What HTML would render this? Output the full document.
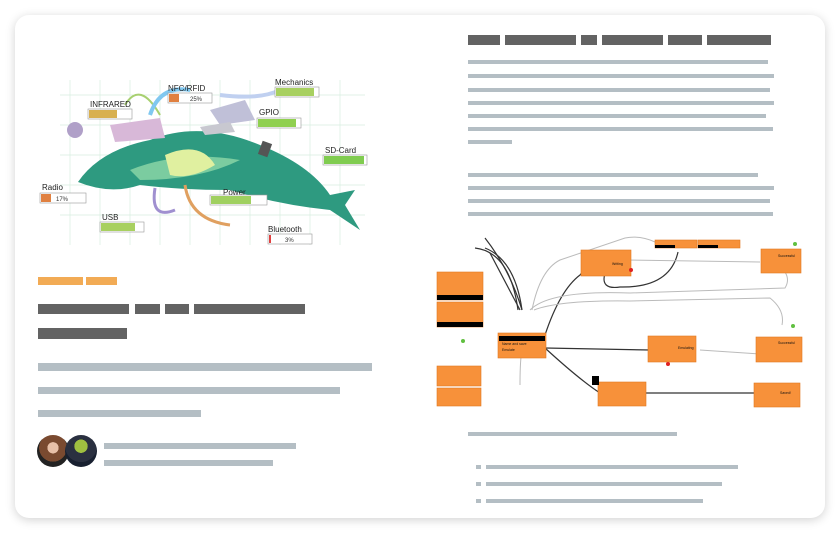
<!DOCTYPE html>
<html><head><meta charset="utf-8"><style>
body{margin:0;width:840px;height:533px;background:#fff;position:relative;overflow:hidden;font-family:"Liberation Sans",sans-serif}
.card{position:absolute;left:15px;top:15px;width:810px;height:503px;background:#fff;border-radius:14px;box-shadow:0 2px 10px rgba(0,0,0,.18)}
.b{position:absolute}
.o{background:#f2ab55}.d{background:#636363}.g{background:#b4bec4}
</style></head><body>
<div class="card"></div>
<!-- left column bars -->
<div class="b o" style="left:38px;top:277px;width:45px;height:8px"></div>
<div class="b o" style="left:86px;top:277px;width:31px;height:8px"></div>
<div class="b d" style="left:38px;top:304px;width:91px;height:10px"></div>
<div class="b d" style="left:135px;top:304px;width:25px;height:10px"></div>
<div class="b d" style="left:165px;top:304px;width:24px;height:10px"></div>
<div class="b d" style="left:194px;top:304px;width:111px;height:10px"></div>
<div class="b d" style="left:38px;top:328px;width:89px;height:11px"></div>
<div class="b g" style="left:38px;top:363px;width:334px;height:8px"></div>
<div class="b g" style="left:38px;top:387px;width:302px;height:7px"></div>
<div class="b g" style="left:38px;top:410px;width:163px;height:7px"></div>
<div class="b" style="left:37px;top:435px;width:32px;height:32px;border-radius:50%;background:radial-gradient(circle at 50% 40%,#e8c0a8 0 22%,#7a4a30 23% 55%,#222 56%)"></div>
<div class="b" style="left:65px;top:435px;width:32px;height:32px;border-radius:50%;background:radial-gradient(circle at 50% 35%,#9fc040 0 25%,#2a3040 26% 60%,#182030 61%)"></div>
<div class="b g" style="left:104px;top:443px;width:192px;height:6px"></div>
<div class="b g" style="left:104px;top:460px;width:169px;height:6px"></div>
<!-- right column text bars -->
<div class="b d" style="left:468px;top:35px;width:32px;height:10px"></div>
<div class="b d" style="left:505px;top:35px;width:71px;height:10px"></div>
<div class="b d" style="left:581px;top:35px;width:16px;height:10px"></div>
<div class="b d" style="left:602px;top:35px;width:61px;height:10px"></div>
<div class="b d" style="left:668px;top:35px;width:34px;height:10px"></div>
<div class="b d" style="left:707px;top:35px;width:64px;height:10px"></div>
<div class="b g" style="left:468px;top:60px;width:300px;height:4px"></div>
<div class="b g" style="left:468px;top:74px;width:306px;height:4px"></div>
<div class="b g" style="left:468px;top:88px;width:302px;height:4px"></div>
<div class="b g" style="left:468px;top:101px;width:306px;height:4px"></div>
<div class="b g" style="left:468px;top:114px;width:298px;height:4px"></div>
<div class="b g" style="left:468px;top:127px;width:305px;height:4px"></div>
<div class="b g" style="left:468px;top:140px;width:44px;height:4px"></div>
<div class="b g" style="left:468px;top:173px;width:290px;height:4px"></div>
<div class="b g" style="left:468px;top:186px;width:306px;height:4px"></div>
<div class="b g" style="left:468px;top:199px;width:302px;height:4px"></div>
<div class="b g" style="left:468px;top:212px;width:305px;height:4px"></div>
<div class="b g" style="left:468px;top:432px;width:209px;height:4px"></div>
<div class="b g" style="left:476px;top:465px;width:5px;height:4px"></div>
<div class="b g" style="left:486px;top:465px;width:252px;height:4px"></div>
<div class="b g" style="left:476px;top:482px;width:5px;height:4px"></div>
<div class="b g" style="left:486px;top:482px;width:236px;height:4px"></div>
<div class="b g" style="left:476px;top:499px;width:5px;height:4px"></div>
<div class="b g" style="left:486px;top:499px;width:217px;height:4px"></div>
<!-- dolphin illustration -->
<svg class="b" style="left:30px;top:70px" width="340" height="180" viewBox="0 0 340 180">
<g stroke="#d8eee0" stroke-width="0.7">
<path d="M40 10V175M70 10V175M100 10V175M130 10V175M160 10V175M190 10V175M220 10V175M250 10V175M280 10V175M310 10V175M30 25H335M30 55H335M30 85H335M30 115H335M30 145H335"/></g>
<path d="M95 35 Q110 10 130 45" fill="none" stroke="#a8d070" stroke-width="2"/>
<path d="M120 45 Q130 15 160 20" fill="none" stroke="#80c8f0" stroke-width="4"/>
<path d="M190 25 Q230 30 250 20" fill="none" stroke="#c0d0f0" stroke-width="4"/>
<path d="M48 112 Q70 80 120 70 Q170 50 230 75 Q280 95 300 125 L325 120 L315 135 L330 160 L300 140 Q250 135 200 120 Q150 120 110 115 Q80 125 48 112Z" fill="#2e9a80"/>
<path d="M100 100 Q150 80 210 90 Q170 110 110 110Z" fill="#8fd8a8" opacity=".8"/>
<path d="M135 85 Q170 70 185 95 Q160 110 140 105Z" fill="#e0f0a0"/>
<path d="M80 55 L130 48 L135 68 L85 72Z" fill="#d8b8d8"/>
<path d="M180 40 L215 30 L225 50 L190 55Z" fill="#c0c0d8"/>
<path d="M170 57 L200 52 L205 62 L175 65Z" fill="#c8c8d0"/>
<rect x="230" y="72" width="10" height="14" fill="#555" transform="rotate(20 235 79)"/>
<path d="M155 115 Q160 150 200 155" fill="none" stroke="#e0a060" stroke-width="3"/>
<path d="M125 118 Q120 150 145 140" fill="none" stroke="#a090d0" stroke-width="3"/>
<circle cx="45" cy="60" r="8" fill="#b0a0c8"/>
<g font-size="8" fill="#222">
<text x="12" y="120">Radio</text><text x="60" y="37">INFRARED</text><text x="138" y="21">NFC/RFID</text>
<text x="245" y="15">Mechanics</text><text x="229" y="45">GPIO</text><text x="295" y="83">SD-Card</text>
<text x="193" y="125">Power</text><text x="72" y="150">USB</text><text x="238" y="162">Bluetooth</text></g>
<g stroke="#999" stroke-width=".6" fill="#fff">
<rect x="10" y="123" width="46" height="10"/><rect x="58" y="39" width="44" height="10"/><rect x="138" y="23" width="44" height="10"/>
<rect x="245" y="17" width="44" height="10"/><rect x="227" y="48" width="44" height="10"/><rect x="293" y="85" width="44" height="10"/>
<rect x="180" y="125" width="57" height="10"/><rect x="70" y="152" width="44" height="10"/><rect x="238" y="164" width="44" height="10"/></g>
<g><rect x="11" y="124" width="10" height="8" fill="#e08040"/><rect x="59" y="40" width="28" height="8" fill="#d8b050"/><rect x="139" y="24" width="10" height="8" fill="#e08040"/>
<rect x="246" y="18" width="38" height="8" fill="#a8d060"/><rect x="228" y="49" width="38" height="8" fill="#90d050"/><rect x="294" y="86" width="40" height="8" fill="#80cc50"/>
<rect x="181" y="126" width="40" height="8" fill="#a0d060"/><rect x="71" y="153" width="34" height="8" fill="#a8d060"/><rect x="239" y="165" width="2" height="8" fill="#e04040"/></g>
<g font-size="6" fill="#333"><text x="26" y="131">17%</text><text x="160" y="31">25%</text><text x="288" y="180"></text><text x="255" y="172">3%</text></g>
</svg>
<!-- flow diagram -->
<svg class="b" style="left:430px;top:230px" width="400" height="180" viewBox="0 0 400 180">
<g fill="none" stroke="#333" stroke-width="1.2">
<path d="M55 8 Q80 40 92 80"/><path d="M55 18 Q85 30 92 80"/>
<path d="M115 105 Q130 60 150 45 Q160 32 176 33"/>
<path d="M115 118 L220 120"/><path d="M115 118 Q150 150 170 163"/>
<path d="M180 163 L325 163"/><path d="M60 23 L90 80"/>
<path d="M175 43 Q170 60 190 57 Q240 58 248 22"/>
<path d="M45 18 Q80 22 88 80"/>
</g>
<g fill="none" stroke="#bbb" stroke-width="1">
<path d="M102 80 Q110 40 130 30 L195 8 Q210 5 225 12"/><path d="M100 80 Q120 60 200 63 L355 58 Q360 50 355 42"/>
<path d="M104 80 Q130 70 200 71 L340 68 Q355 80 352 95"/><path d="M195 30 L330 32"/><path d="M270 120 L330 124"/>
<path d="M90 155 Q90 130 92 120"/>
</g>
<g fill="#f7913a" stroke="#e07820" stroke-width=".6">
<rect x="7" y="42" width="46" height="28"/><rect x="7" y="72" width="46" height="25"/>
<rect x="68" y="103" width="48" height="25"/><rect x="7" y="136" width="44" height="20"/><rect x="7" y="158" width="44" height="18"/>
<rect x="151" y="20" width="50" height="26"/><rect x="225" y="10" width="42" height="8"/><rect x="268" y="10" width="42" height="8"/>
<rect x="331" y="19" width="40" height="24"/><rect x="218" y="106" width="48" height="26"/><rect x="326" y="107" width="46" height="25"/>
<rect x="168" y="152" width="48" height="24"/><rect x="324" y="153" width="46" height="24"/></g>
<g fill="#000"><rect x="69" y="106" width="46" height="5"/><rect x="7" y="65" width="46" height="5"/><rect x="7" y="92" width="46" height="5"/>
<rect x="225" y="15" width="20" height="3"/><rect x="268" y="15" width="20" height="3"/><rect x="162" y="146" width="7" height="9"/></g>
<g fill="#e02020"><circle cx="201" cy="40" r="2"/><circle cx="238" cy="134" r="2"/></g>
<g fill="#60c040"><circle cx="365" cy="14" r="2"/><circle cx="363" cy="96" r="2"/><circle cx="33" cy="111" r="2"/></g>
<g font-size="3.5" fill="#111"><text x="72" y="115">Name and save</text><text x="72" y="121">Emulate</text>
<text x="182" y="35">Writing</text><text x="248" y="119">Emulating</text><text x="348" y="27">Successful</text><text x="348" y="114">Successful</text><text x="350" y="164">Saved!</text></g>
</svg>
</body></html>
